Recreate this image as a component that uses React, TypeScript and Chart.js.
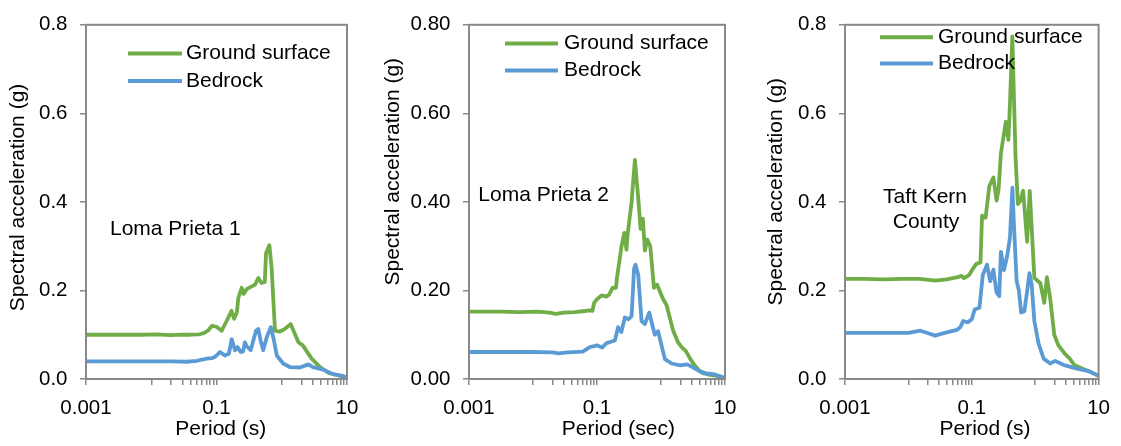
import React, { useEffect, useRef } from "react";
import { Chart, registerables } from "chart.js";

Chart.register(...registerables);

// ---------------- data ----------------
const seriesNames = ["Ground surface", "Bedrock"];
const xLabelledTicks = [0.001, 0.1, 10];
const xMinorTicks = [0.01, 0.02, 0.03, 0.04, 0.05, 0.06, 0.07, 0.08, 0.09, 1, 2, 3, 4, 5, 6, 7, 8, 9];
const yTickValues = [0, 0.2, 0.4, 0.6, 0.8];
const yAxisTitle = "Spectral acceleration (g)";

// Loma Prieta 1
const lp1GroundPeriod = [0.001, 0.002, 0.004, 0.008, 0.012, 0.02, 0.028, 0.04, 0.055, 0.065, 0.075, 0.085, 0.1, 0.12, 0.143, 0.17, 0.186, 0.205, 0.216, 0.243, 0.26, 0.29, 0.39, 0.437, 0.49, 0.55, 0.574, 0.646, 0.7, 0.788, 0.93, 1.11, 1.37, 1.8, 2.1, 2.88, 3.86, 5.17, 6.95, 8.5, 10];
const lp1GroundSa = [0.1, 0.1, 0.1, 0.1, 0.101, 0.099, 0.1, 0.1, 0.101, 0.104, 0.11, 0.12, 0.118, 0.109, 0.131, 0.154, 0.136, 0.15, 0.183, 0.206, 0.192, 0.203, 0.213, 0.228, 0.217, 0.219, 0.284, 0.302, 0.25, 0.109, 0.107, 0.113, 0.124, 0.083, 0.076, 0.046, 0.027, 0.014, 0.009, 0.006, 0.002];
const lp1BedrockPeriod = [0.001, 0.004, 0.01, 0.02, 0.035, 0.05, 0.06, 0.071, 0.085, 0.095, 0.113, 0.134, 0.155, 0.171, 0.192, 0.21, 0.235, 0.255, 0.273, 0.29, 0.334, 0.403, 0.437, 0.474, 0.52, 0.59, 0.68, 0.75, 0.84, 1.05, 1.33, 1.9, 2.56, 3.0, 4.34, 6.1, 8.7, 10];
const lp1BedrockSa = [0.04, 0.04, 0.04, 0.04, 0.039, 0.041, 0.044, 0.046, 0.047, 0.05, 0.061, 0.053, 0.057, 0.09, 0.065, 0.072, 0.061, 0.062, 0.083, 0.074, 0.065, 0.109, 0.113, 0.087, 0.065, 0.095, 0.117, 0.091, 0.053, 0.035, 0.027, 0.026, 0.033, 0.027, 0.021, 0.011, 0.007, 0.002];

// Loma Prieta 2
const lp2GroundPeriod = [0.001, 0.003, 0.006, 0.012, 0.018, 0.023, 0.03, 0.045, 0.06, 0.077, 0.085, 0.09, 0.1, 0.118, 0.141, 0.155, 0.175, 0.198, 0.205, 0.243, 0.267, 0.289, 0.3, 0.347, 0.391, 0.44, 0.48, 0.52, 0.56, 0.61, 0.68, 0.776, 0.87, 1.08, 1.22, 1.55, 1.86, 2.1, 2.45, 2.85, 3.3, 4.0, 5.5, 7.5, 10];
const lp2GroundSa = [0.152, 0.152, 0.151, 0.152, 0.15, 0.147, 0.15, 0.151, 0.153, 0.155, 0.154, 0.172, 0.18, 0.189, 0.186, 0.191, 0.206, 0.206, 0.228, 0.302, 0.33, 0.292, 0.325, 0.4, 0.495, 0.41, 0.339, 0.362, 0.29, 0.315, 0.3, 0.206, 0.213, 0.18, 0.167, 0.109, 0.082, 0.072, 0.063, 0.046, 0.032, 0.018, 0.01, 0.007, 0.002];
const lp2BedrockPeriod = [0.001, 0.005, 0.01, 0.02, 0.025, 0.035, 0.06, 0.077, 0.09, 0.099, 0.12, 0.141, 0.19, 0.214, 0.24, 0.272, 0.31, 0.347, 0.38, 0.4, 0.44, 0.497, 0.56, 0.655, 0.8, 0.9, 1.15, 1.47, 2.0, 2.52, 3.0, 4.6, 6.6, 10];
const lp2BedrockSa = [0.061, 0.061, 0.061, 0.06, 0.058, 0.06, 0.062, 0.072, 0.074, 0.076, 0.071, 0.081, 0.087, 0.117, 0.106, 0.139, 0.135, 0.142, 0.25, 0.258, 0.236, 0.131, 0.124, 0.15, 0.1, 0.108, 0.045, 0.035, 0.031, 0.033, 0.028, 0.013, 0.011, 0.002];

// Taft Kern County
const tkGroundPeriod = [0.001, 0.002, 0.004, 0.008, 0.015, 0.027, 0.04, 0.06, 0.069, 0.075, 0.085, 0.092, 0.105, 0.118, 0.137, 0.145, 0.165, 0.189, 0.219, 0.246, 0.265, 0.288, 0.344, 0.378, 0.4, 0.436, 0.49, 0.534, 0.585, 0.645, 0.746, 0.82, 0.89, 0.97, 1.2, 1.39, 1.53, 1.72, 2.0, 2.32, 2.94, 3.5, 4.2, 6.4, 10];
const tkGroundSa = [0.226, 0.226, 0.225, 0.226, 0.226, 0.222, 0.225, 0.23, 0.233, 0.228, 0.232, 0.236, 0.25, 0.26, 0.263, 0.369, 0.364, 0.436, 0.455, 0.403, 0.429, 0.51, 0.581, 0.54, 0.622, 0.774, 0.5, 0.395, 0.403, 0.425, 0.31, 0.425, 0.33, 0.228, 0.217, 0.172, 0.23, 0.183, 0.1, 0.076, 0.057, 0.046, 0.031, 0.02, 0.007];
const tkBedrockPeriod = [0.001, 0.003, 0.006, 0.01, 0.0155, 0.02, 0.0265, 0.035, 0.045, 0.058, 0.066, 0.073, 0.087, 0.1, 0.111, 0.132, 0.149, 0.174, 0.195, 0.219, 0.246, 0.271, 0.288, 0.322, 0.364, 0.4, 0.437, 0.465, 0.51, 0.553, 0.6, 0.674, 0.746, 0.81, 0.88, 0.97, 1.13, 1.36, 1.72, 2.06, 2.77, 4.4, 7.2, 10];
const tkBedrockSa = [0.104, 0.104, 0.104, 0.104, 0.109, 0.104, 0.098, 0.103, 0.107, 0.111, 0.117, 0.131, 0.128, 0.135, 0.157, 0.161, 0.235, 0.258, 0.221, 0.247, 0.195, 0.187, 0.287, 0.246, 0.28, 0.32, 0.432, 0.34, 0.221, 0.2, 0.15, 0.153, 0.198, 0.239, 0.213, 0.131, 0.08, 0.046, 0.035, 0.041, 0.032, 0.024, 0.017, 0.007];

// ---------------- styling / layout ----------------
const FONT = "'Liberation Sans', Arial, Helvetica, sans-serif";
const GREEN = "#70AD47";
const BLUE = "#5B9BD5";
const AXIS_GRAY = "#898989";
const H = 446;

type PanelCfg = {
  left: number;
  width: number;
  plotLeft: number;
  plotRight: number;
  yDigits: number;
  xTitle: string;
  xTitlePos: [number, number];
  yTitlePos: [number, number];
  note: string[];
  noteAlign: CanvasTextAlign;
  notePos: [number, number][];
  legendLine: [number, number];
  legendTextX: number;
  legendY: number[];
  ground: [number[], number[]];
  bedrock: [number[], number[]];
};

const panels: PanelCfg[] = [
  {
    left: 0, width: 370, plotLeft: 86, plotRight: 347, yDigits: 1,
    xTitle: "Period (s)", xTitlePos: [220.8, 429], yTitlePos: [18.2, 197.5],
    note: ["Loma Prieta 1"], noteAlign: "left", notePos: [[110, 229]],
    legendLine: [128, 182], legendTextX: 186, legendY: [53.5, 81],
    ground: [lp1GroundPeriod, lp1GroundSa], bedrock: [lp1BedrockPeriod, lp1BedrockSa],
  },
  {
    left: 370, width: 380, plotLeft: 99, plotRight: 355, yDigits: 2,
    xTitle: "Period (sec)", xTitlePos: [248.3, 429], yTitlePos: [23.2, 171.7],
    note: ["Loma Prieta 2"], noteAlign: "left", notePos: [[108.3, 195.5]],
    legendLine: [135, 188], legendTextX: 194, legendY: [43.5, 70.5],
    ground: [lp2GroundPeriod, lp2GroundSa], bedrock: [lp2BedrockPeriod, lp2BedrockSa],
  },
  {
    left: 750, width: 371, plotLeft: 95, plotRight: 353, yDigits: 1,
    xTitle: "Period (s)", xTitlePos: [235, 429], yTitlePos: [26.2, 191.7],
    note: ["Taft Kern", "County"], noteAlign: "center", notePos: [[175, 197], [176, 222.5]],
    legendLine: [130, 183], legendTextX: 188, legendY: [37.3, 63.5],
    ground: [tkGroundPeriod, tkGroundSa], bedrock: [tkBedrockPeriod, tkBedrockSa],
  },
];

const toPoints = (xs: number[], ys: number[]) => xs.map((x, i) => ({ x, y: ys[i] }));

const decorPlugin = {
  id: "panelDecor",
  afterDraw(chart: any, _args: any, opts: any) {
    const { ctx, chartArea: ca } = chart;
    const cfg: PanelCfg = opts.cfg;
    if (!cfg) return;
    ctx.save();
    // plot frame
    ctx.strokeStyle = AXIS_GRAY;
    ctx.lineWidth = 2;
    ctx.strokeRect(ca.left, ca.top, ca.right - ca.left, ca.bottom - ca.top);

    ctx.fillStyle = "#000";
    ctx.textBaseline = "middle";
    ctx.font = `21px ${FONT}`;

    // legend (inside plot)
    chart.data.datasets.forEach((ds: any, i: number) => {
      const y = cfg.legendY[i];
      ctx.strokeStyle = ds.borderColor;
      ctx.lineWidth = 4;
      ctx.beginPath();
      ctx.moveTo(cfg.legendLine[0], y);
      ctx.lineTo(cfg.legendLine[1], y);
      ctx.stroke();
      ctx.textAlign = "left";
      ctx.fillText(ds.label, cfg.legendTextX, y);
    });

    // record annotation
    ctx.textAlign = cfg.noteAlign;
    cfg.note.forEach((t, i) => ctx.fillText(t, cfg.notePos[i][0], cfg.notePos[i][1]));

    // axis titles
    ctx.textAlign = "center";
    ctx.fillText(cfg.xTitle, cfg.xTitlePos[0], cfg.xTitlePos[1]);
    ctx.save();
    ctx.translate(cfg.yTitlePos[0], cfg.yTitlePos[1]);
    ctx.rotate(-Math.PI / 2);
    ctx.fillText(yAxisTitle, 0, 0);
    ctx.restore();

    ctx.restore();
  },
};

function Panel({ cfg }: { cfg: PanelCfg }) {
  const ref = useRef<HTMLCanvasElement | null>(null);
  useEffect(() => {
    const canvas = ref.current;
    if (!canvas) return;
    const allXTicks = [...xLabelledTicks, ...xMinorTicks].sort((a, b) => a - b);
    const chart = new Chart(canvas, {
      type: "line",
      data: {
        datasets: [
          {
            label: seriesNames[0],
            data: toPoints(cfg.ground[0], cfg.ground[1]),
            borderColor: GREEN,
            backgroundColor: GREEN,
            borderWidth: 3.8,
            borderJoinStyle: "round",
            borderCapStyle: "round",
            pointRadius: 0,
            tension: 0,
            order: 1,
          },
          {
            label: seriesNames[1],
            data: toPoints(cfg.bedrock[0], cfg.bedrock[1]),
            borderColor: BLUE,
            backgroundColor: BLUE,
            borderWidth: 3.8,
            borderJoinStyle: "round",
            borderCapStyle: "round",
            pointRadius: 0,
            tension: 0,
            order: 0,
          },
        ],
      },
      options: {
        responsive: false,
        animation: false,
        events: [],
        layout: { padding: { left: 0, top: 20, right: cfg.width - cfg.plotRight, bottom: H - 379 - 40 } },
        plugins: {
          legend: { display: false },
          tooltip: { enabled: false },
          // @ts-ignore
          panelDecor: { cfg },
        },
        scales: {
          x: {
            type: "logarithmic",
            min: 0.001,
            max: 10,
            afterBuildTicks: (s: any) => {
              s.ticks = allXTicks.map((v) => ({ value: v }));
            },
            afterFit: (s: any) => {
              s.height = 40;
            },
            ticks: {
              autoSkip: false,
              maxRotation: 0,
              minRotation: 0,
              padding: 11,
              color: "#000",
              font: { family: FONT, size: 20.5 },
              callback: (v: any) => (xLabelledTicks.includes(Number(v)) ? String(v) : ""),
            },
            grid: { drawOnChartArea: false, drawTicks: true, tickLength: 6, color: AXIS_GRAY, lineWidth: 1.5 },
            border: { display: false },
          },
          y: {
            type: "linear",
            min: 0,
            max: 0.8,
            afterBuildTicks: (s: any) => {
              s.ticks = yTickValues.map((v) => ({ value: v }));
            },
            afterFit: (s: any) => {
              s.width = cfg.plotLeft;
            },
            ticks: {
              padding: 12.5,
              color: "#000",
              font: { family: FONT, size: 20.5 },
              callback: (v: any) => Number(v).toFixed(cfg.yDigits),
            },
            grid: { drawOnChartArea: false, drawTicks: true, tickLength: 6, color: AXIS_GRAY, lineWidth: 1.5 },
            border: { display: false },
          },
        },
      } as any,
      plugins: [decorPlugin],
    });
    return () => chart.destroy();
  }, [cfg]);
  return (
    <canvas
      ref={ref}
      width={cfg.width}
      height={H}
      style={{ position: "absolute", left: cfg.left, top: 0, width: cfg.width, height: H, display: "block" }}
    />
  );
}

export default function App() {
  return (
    <div style={{ position: "absolute", left: 0, top: 0, width: 1121, height: H, background: "#fff", overflow: "hidden" }}>
      {panels.map((p, i) => (
        <Panel key={i} cfg={p} />
      ))}
    </div>
  );
}
